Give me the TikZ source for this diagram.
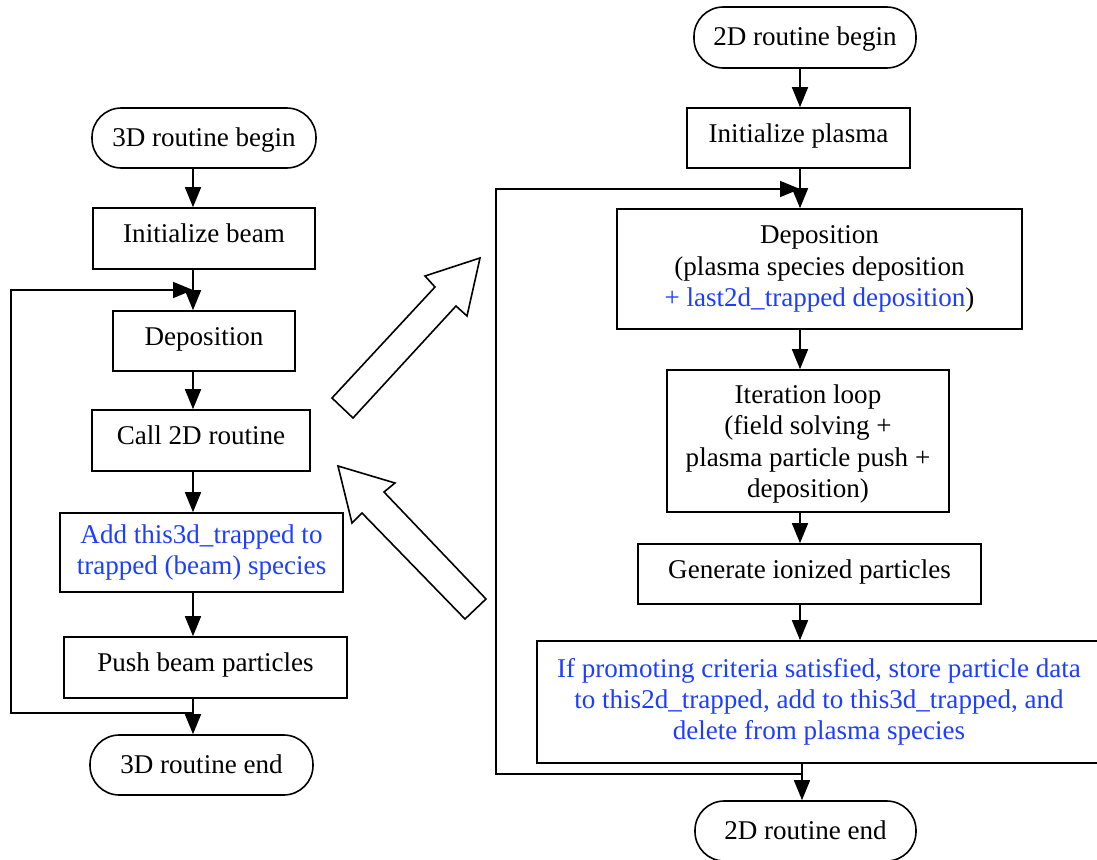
\documentclass[tikz,border=0pt]{standalone}
\usepackage{fontspec}
\setmainfont{Liberation Serif}
\usetikzlibrary{arrows.meta}
\definecolor{tblue}{RGB}{30,62,255}
\tikzset{
  every node/.style={font=\fontsize{20.3}{23.5}\selectfont, align=center, inner sep=0pt, line width=1.2pt},
  procbox/.style={draw, rectangle},
  oneline/.style={text height=14pt, text depth=7.5pt},
  termbox/.style={draw, rectangle, rounded corners=22pt, text height=14pt, text depth=2pt},
  arr/.style={line width=1.2pt, -{Triangle[length=15pt,width=12pt]}},
  hollow/.style={draw, line width=1.2pt, fill=white, line join=miter}
}
\begin{document}
\begin{tikzpicture}[x=0.75pt,y=-0.75pt]
\clip (0,0) rectangle (1097,860);
\useasboundingbox (0,0) rectangle (1097,860);

% ---------- left column (3D) ----------
\node[termbox, minimum width=168pt, minimum height=45pt] (b3) at (204,138) {3D routine begin};
\node[procbox, oneline, minimum width=166.5pt, minimum height=45.75pt] (ib) at (204,238.5) {Initialize beam};
\node[procbox, oneline, minimum width=136.5pt, minimum height=45pt] (dep3) at (204,341) {Deposition};
\node[procbox, oneline, minimum width=163.5pt, minimum height=45.75pt] (call) at (201,440.5) {Call 2D routine};
\node[procbox, minimum width=212.25pt, minimum height=59.25pt, text=tblue] (add) at (201.5,552.5) {Add this3d\_trapped to\\trapped (beam) species};
\node[procbox, oneline, minimum width=212.25pt, minimum height=45.75pt] (push) at (205.5,667.5) {Push beam particles};
\node[termbox, minimum width=167.25pt, minimum height=45pt] (e3) at (201.5,765) {3D routine end};

\coordinate (xl) at (193,0);
\draw[arr] (b3.south -| xl) -- (ib.north -| xl);
\draw[arr] (ib.south -| xl) -- (dep3.north -| xl);
\draw[arr] (dep3.south -| xl) -- (call.north -| xl);
\draw[arr] (call.south -| xl) -- (add.north -| xl);
\draw[arr] (add.south -| xl) -- (push.north -| xl);
\draw[arr] (push.south -| xl) -- (e3.north -| xl);

\coordinate (lbot) at (193,713);
\coordinate (ltop) at (193,290);
\draw[arr] (lbot) -- (11,713) -- (11,290) -- (ltop);

% ---------- right column (2D) ----------
\node[termbox, minimum width=166.5pt, minimum height=45.75pt] (b2) at (805,37.5) {2D routine begin};
\node[procbox, oneline, minimum width=167.25pt, minimum height=45pt] (ip) at (798.5,138) {Initialize plasma};
\node[procbox, minimum width=303.75pt, minimum height=90pt] (dep2) at (819.5,269) {Deposition\\(plasma species deposition\\\textcolor{tblue}{+ last2d\_trapped deposition})};
\node[procbox, minimum width=211.5pt, minimum height=106.5pt, text depth=0pt] (it) at (808,441) {Iteration loop\\(field solving +\\plasma particle push +\\deposition)};
\node[procbox, oneline, minimum width=257.25pt, minimum height=45pt] (gen) at (809.5,574) {Generate ionized particles};
\node[procbox, minimum width=423pt, minimum height=91.5pt, text=tblue] (prom) at (819,702) {If promoting criteria satisfied, store particle data\\to this2d\_trapped, add to this3d\_trapped, and\\delete from plasma species};
\node[termbox, minimum width=165.75pt, minimum height=45pt] (e2) at (805.5,831) {2D routine end};

\coordinate (xr) at (800,0);
\coordinate (xr2) at (802,0);
\draw[arr] (b2.south -| xr) -- (ip.north -| xr);
\draw[arr] (ip.south -| xr) -- (dep2.north -| xr);
\draw[arr] (dep2.south -| xr) -- (it.north -| xr);
\draw[arr] (it.south -| xr) -- (gen.north -| xr);
\draw[arr] (gen.south -| xr) -- (prom.north -| xr);
\draw[arr] (prom.south -| xr2) -- (e2.north -| xr2);

\coordinate (rbot) at (802,774);
\coordinate (rtop) at (800,189);
\draw[arr] (rbot) -- (496,774) -- (496,189) -- (rtop);

% ---------- hollow arrows ----------
\draw[hollow] (332,398) -- (435,287) -- (425,276) -- (480,258) -- (467,316) -- (456,306) -- (353,418) -- cycle;
\draw[hollow] (338,466) -- (395,483) -- (384,492) -- (486,599) -- (465,619) -- (362,513) -- (352,523) -- cycle;
\end{tikzpicture}
\end{document}
